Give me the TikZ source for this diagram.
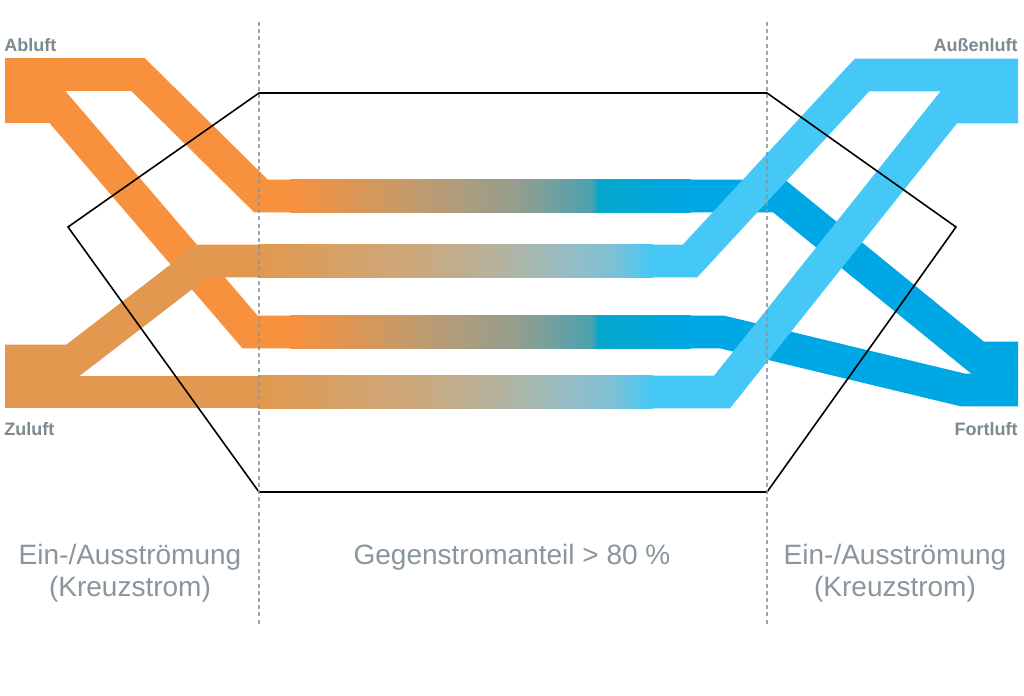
\documentclass[tikz,border=0pt]{standalone}
\usepackage{fontspec}
\setmainfont{Liberation Sans}
\usetikzlibrary{positioning}
\definecolor{abluft}{HTML}{F7913D}
\definecolor{zuluft}{HTML}{E2994F}
\definecolor{fortluft}{HTML}{00A7E5}
\definecolor{aussen}{HTML}{45C8F5}
\definecolor{labelgray}{HTML}{7D8990}
\definecolor{zonegray}{HTML}{8A969D}
\definecolor{divgray}{HTML}{8797A5}
% stops of the exhaust gradient (warm -> cold)
\definecolor{exA}{HTML}{BF9B6F}
\definecolor{exB}{HTML}{949E90}
\definecolor{exC}{HTML}{4AA1B0}
\definecolor{exD}{HTML}{05A8CA}
% stops of the supply gradient (cold -> warm)
\definecolor{suA}{HTML}{CAA97E}
\definecolor{suB}{HTML}{B4B29F}
\definecolor{suC}{HTML}{98BBC1}
\definecolor{suD}{HTML}{80C0D4}

\begin{document}
\begin{tikzpicture}[
  x=0.5pt, y=-0.5pt,
  band/.style={draw=#1, line width=16.4pt, line join=miter},
  hexline/.style={draw=black, line width=0.8pt, line join=miter},
  divider/.style={draw=divgray, line width=0.7pt, dash pattern=on 2pt off 1.6pt, opacity=0.85},
  cornerlabel/.style={font=\bfseries\fontsize{9}{11}\selectfont, text=labelgray, inner sep=0pt},
  zonelabel/.style={font=\fontsize{14}{16}\selectfont, text=zonegray, inner sep=0pt, align=center},
]

% Background
\fill[white] (0,0) rectangle (1024,696);
\useasboundingbox (0,0) rectangle (1024,696);

% =============================================
% Exhaust stream: Abluft -> Fortluft
% =============================================
\draw[band=abluft] (5,74.5) -- (138,74.5) -- (261,196) -- (292,196);
\draw[band=abluft] (5,106.5) -- (57,106.5) -- (250,332) -- (292,332);

\foreach \yc in {196,332} {
  \foreach \xa/\xb/\ca/\cb in {290/420/abluft/exA, 420/518/exA/exB,
                               518/592/exB/exC, 592/597/exC/exD, 597/690/exD/fortluft}
    \shade[left color=\ca, right color=\cb] (\xa,\yc-16.4) rectangle (\xb+0.6,\yc+16.4);
}

\draw[band=fortluft] (689,196) -- (779,196) -- (978,358) -- (1018,358);
\draw[band=fortluft] (689,332) -- (722,332) -- (963,390) -- (1018,390);

% =============================================
% Supply stream: Aussenluft -> Zuluft
% =============================================
\draw[band=aussen] (1018,75) -- (862,75) -- (690,261) -- (650,261);
\draw[band=aussen] (1018,107) -- (949,107) -- (722,392) -- (650,392);

\foreach \yc in {261,392} {
  \foreach \xa/\xb/\ca/\cb in {258/420/zuluft/suA, 420/500/suA/suB,
                               500/560/suB/suC, 560/610/suC/suD, 610/652/suD/aussen}
    \shade[left color=\ca, right color=\cb] (\xa,\yc-16.4) rectangle (\xb+0.6,\yc+16.4);
}

\draw[band=zuluft] (260,261) -- (202,261) -- (72,361) -- (5,361);
\draw[band=zuluft] (260,392) -- (5,392);

% =============================================
% Exchanger outline and zone dividers
% =============================================
\draw[hexline] (259,93) -- (767,93) -- (956,227) -- (767,492)
  -- (259,492) -- (68,227) -- cycle;

\draw[divider] (259,22) -- (259,626);
\draw[divider] (767,22) -- (767,626);

% =============================================
% Labels
% =============================================
\node[cornerlabel, anchor=base west] (abluft) at (4,51) {Abluft};
\node[cornerlabel, anchor=base west] (zuluft) at (4,435) {Zuluft};
\node[cornerlabel, anchor=base east] (aussenluft) at (1018,51) {Außenluft};
\node[cornerlabel, anchor=base east] (fortluft) at (1018,435) {Fortluft};

\node[zonelabel, anchor=north] (inlet) at (130,544)
  {Ein-/Ausströmung\\(Kreuzstrom)};
\node[zonelabel, anchor=north] (counter) at (512,544)
  {Gegenstromanteil > 80 \%};
\node[zonelabel, anchor=north] (outlet) at (895,544)
  {Ein-/Ausströmung\\(Kreuzstrom)};

\end{tikzpicture}
\end{document}
